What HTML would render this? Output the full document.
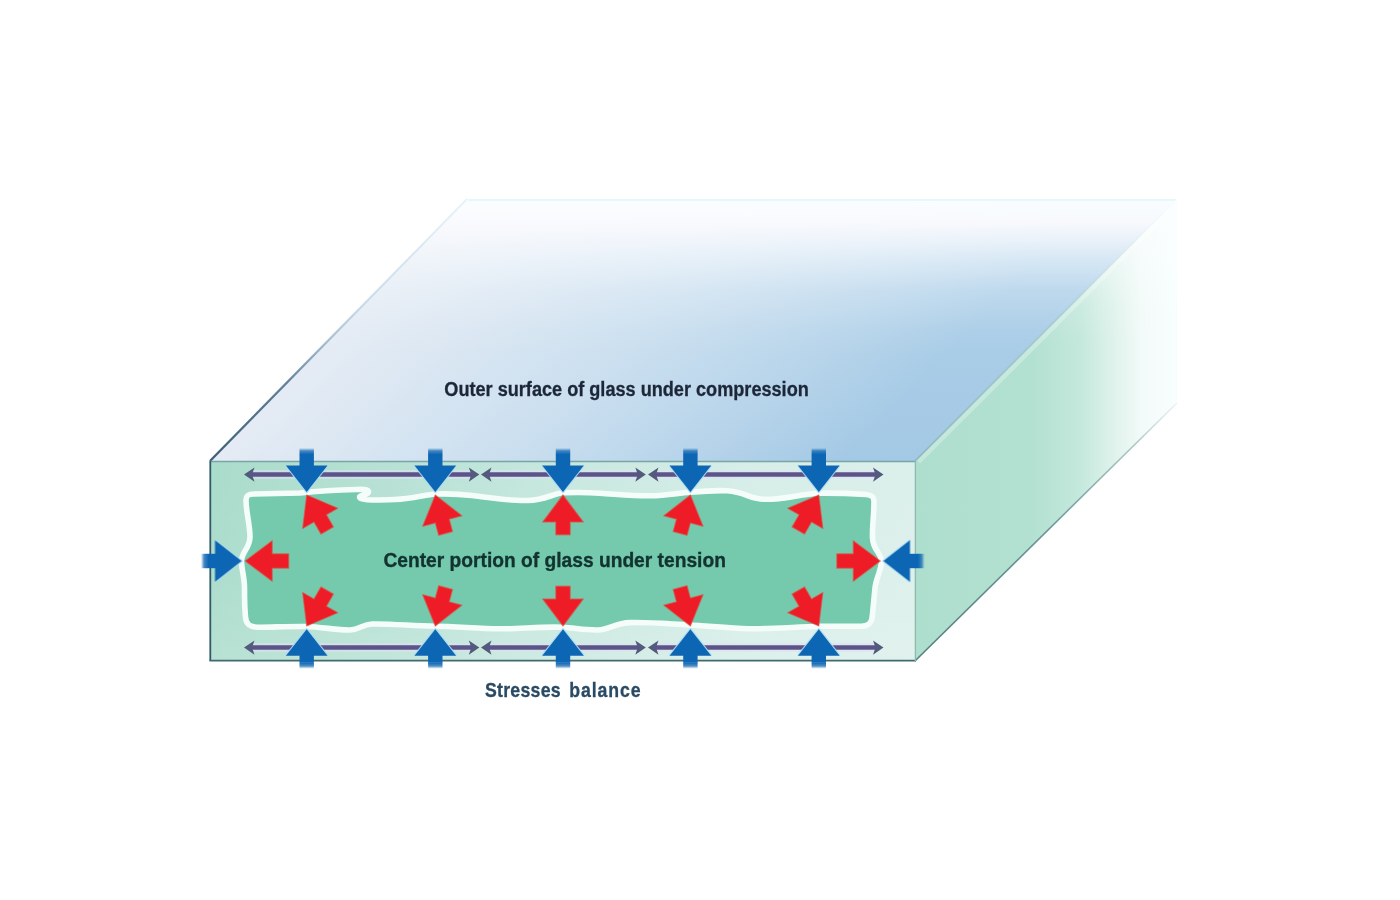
<!DOCTYPE html>
<html><head><meta charset="utf-8"><title>Tempered glass stresses</title>
<style>
html,body{margin:0;padding:0;background:#fff;}
body{width:1400px;height:900px;overflow:hidden;font-family:"Liberation Sans",sans-serif;}
svg{display:block;position:absolute;left:0;top:0}
text{font-family:"Liberation Sans",sans-serif;font-weight:bold;}
</style></head><body>
<svg width="1400" height="900" viewBox="0 0 1400 900">
<defs>
<linearGradient id="topV" gradientUnits="userSpaceOnUse" x1="0" y1="199" x2="0" y2="461">
<stop offset="0" stop-color="#abcee8"/><stop offset="0.5" stop-color="#aacde7"/><stop offset="1" stop-color="#a4c9e5"/>
</linearGradient>
<linearGradient id="topW" gradientUnits="userSpaceOnUse" x1="0" y1="199" x2="0" y2="461">
<stop offset="0" stop-color="#fbfeff" stop-opacity="0.98"/><stop offset="0.09" stop-color="#fbfbfe" stop-opacity="0.95"/><stop offset="0.15" stop-color="#f9fafe" stop-opacity="0.82"/><stop offset="0.22" stop-color="#f8fbfe" stop-opacity="0.6"/><stop offset="0.35" stop-color="#f8fbfe" stop-opacity="0.25"/><stop offset="0.5" stop-color="#f8fbfe" stop-opacity="0.05"/><stop offset="0.6" stop-color="#f8fbfe" stop-opacity="0"/>
</linearGradient>
<linearGradient id="topH" gradientUnits="userSpaceOnUse" x1="210" y1="461" x2="533" y2="778">
<stop offset="0" stop-color="#e8edf5" stop-opacity="0.95"/><stop offset="0.5" stop-color="#e9f0f7" stop-opacity="0.52"/><stop offset="1" stop-color="#eef3f9" stop-opacity="0"/>
</linearGradient>
<linearGradient id="sideH" gradientUnits="userSpaceOnUse" x1="915" y1="0" x2="1177" y2="0">
<stop offset="0" stop-color="#aedecd"/><stop offset="0.45" stop-color="#b3e1d1"/><stop offset="0.63" stop-color="#c4e8dc"/><stop offset="0.745" stop-color="#dcf1ea"/><stop offset="0.86" stop-color="#f2faf8"/><stop offset="1" stop-color="#f8fefe"/>
</linearGradient>
<linearGradient id="sideW" gradientUnits="userSpaceOnUse" x1="0" y1="199" x2="0" y2="461">
<stop offset="0" stop-color="#fbfefe" stop-opacity="0.9"/><stop offset="0.15" stop-color="#fbfefe" stop-opacity="0.6"/><stop offset="0.4" stop-color="#fbfefe" stop-opacity="0.12"/><stop offset="0.55" stop-color="#fbfefe" stop-opacity="0"/>
</linearGradient>
<linearGradient id="frontV" x1="0" y1="0" x2="0" y2="1">
<stop offset="0" stop-color="#ffffff" stop-opacity="0"/><stop offset="0.6" stop-color="#ffffff" stop-opacity="0.04"/><stop offset="1" stop-color="#ffffff" stop-opacity="0.16"/>
</linearGradient>
<linearGradient id="frontH" gradientUnits="userSpaceOnUse" x1="210" y1="0" x2="915" y2="0">
<stop offset="0" stop-color="#aadccb"/><stop offset="0.25" stop-color="#b7e1d4"/><stop offset="0.5" stop-color="#c8e8df"/><stop offset="0.75" stop-color="#d6ede8"/><stop offset="1" stop-color="#dcf0eb"/>
</linearGradient>
<linearGradient id="eL" gradientUnits="userSpaceOnUse" x1="210" y1="461" x2="467" y2="199">
<stop offset="0" stop-color="#34566f" stop-opacity="0.95"/><stop offset="0.3" stop-color="#3f6583" stop-opacity="0.8"/><stop offset="0.45" stop-color="#6b93b0" stop-opacity="0.55"/><stop offset="0.6" stop-color="#8fb4d0" stop-opacity="0.35"/><stop offset="1" stop-color="#bfe0ee" stop-opacity="0.25"/>
</linearGradient>
<linearGradient id="eM" gradientUnits="userSpaceOnUse" x1="915" y1="461" x2="1177" y2="199">
<stop offset="0" stop-color="#7fa9b6" stop-opacity="0.75"/><stop offset="0.55" stop-color="#8fb6c4" stop-opacity="0.55"/><stop offset="0.85" stop-color="#c0d8e0" stop-opacity="0.2"/><stop offset="1" stop-color="#ffffff" stop-opacity="0"/>
</linearGradient>
<linearGradient id="eB" gradientUnits="userSpaceOnUse" x1="915" y1="661" x2="1177" y2="403">
<stop offset="0" stop-color="#3d6a6e" stop-opacity="0.85"/><stop offset="0.5" stop-color="#4f7f80" stop-opacity="0.8"/><stop offset="0.85" stop-color="#7fa8a6" stop-opacity="0.6"/><stop offset="1" stop-color="#c0dbd8" stop-opacity="0.3"/>
</linearGradient>
<linearGradient id="shaftFade" x1="0" y1="0" x2="0" y2="1">
<stop offset="0" stop-color="#1a6db6" stop-opacity="0"/><stop offset="0.45" stop-color="#1468b4" stop-opacity="0.75"/><stop offset="1" stop-color="#1166b3" stop-opacity="1"/>
</linearGradient>
<clipPath id="sideClip"><polygon points="915,461 1177,199 1177,403 915,661"/></clipPath>
<filter id="b1" x="-5%" y="-5%" width="110%" height="110%"><feGaussianBlur stdDeviation="0.55"/></filter>
<filter id="b2" x="-5%" y="-5%" width="110%" height="110%"><feGaussianBlur stdDeviation="0.7"/></filter>
</defs>
<rect width="1400" height="900" fill="#ffffff"/>
<!-- top face -->
<polygon points="210,461 467,199 1177,199 915,461" fill="url(#topV)"/>
<polygon points="210,461 467,199 1177,199 915,461" fill="url(#topH)"/>
<polygon points="210,461 467,199 1177,199 915,461" fill="url(#topW)"/>
<line x1="468" y1="200" x2="1176" y2="200" stroke="#e2f7fb" stroke-width="2" stroke-opacity="0.9"/>
<!-- side face -->
<polygon points="915,461 1177,199 1177,403 915,661" fill="url(#sideH)"/>
<polygon points="915,461 1177,199 1177,403 915,661" fill="url(#sideW)"/>
<!-- front face -->
<rect x="210" y="461" width="705.5" height="200" fill="url(#frontH)"/>
<rect x="210" y="461" width="705.5" height="200" fill="url(#frontV)"/>
<!-- edges -->
<line x1="210" y1="461" x2="467" y2="199" stroke="url(#eL)" stroke-width="2.3"/>
<line x1="918.5" y1="462" x2="1180.5" y2="200" stroke="#ffffff" stroke-opacity="0.28" stroke-width="4.5" filter="url(#b1)" clip-path="url(#sideClip)"/>
<line x1="915" y1="461" x2="1177" y2="199" stroke="url(#eM)" stroke-width="1.5"/>
<line x1="915" y1="661" x2="1177" y2="403" stroke="url(#eB)" stroke-width="1.6"/>
<line x1="210" y1="461.5" x2="915" y2="461.5" stroke="#7aa5a6" stroke-width="1.4"/>
<line x1="210.3" y1="461" x2="210.3" y2="661" stroke="#2f5a66" stroke-width="1.8"/>
<line x1="209.5" y1="660.6" x2="916" y2="660.6" stroke="#3f6b70" stroke-width="1.8"/>
<line x1="915.4" y1="461" x2="915.4" y2="661" stroke="#8fbcb0" stroke-width="1.4"/>
<!-- inner tension zone -->
<g filter="url(#b1)">
<path d="M246,500 C246,495 249,494 254,494 L300,493 C320,491 340,490 356,489.5 C366,489 370,490 368,493 C365,496 358,495 360,498 C362,500.5 380,500 395,499.5 C410,499 425,495 435,494 C450,493.5 460,494 472,495.5 C495,498.5 510,501 528,500.5 C545,500 552,494 563,492.8 C580,492 590,492.5 600,493.2 C620,494.5 635,496 650,495.8 C668,495.5 678,493 690,492.3 C705,491 715,490.2 727,490.8 C745,492 750,499 764,499.3 C785,499.7 800,494 819,493.2 C840,493 858,494 866,494.5 C872,495 874,497 874,502 C874,515 872,528 872.5,538 C873,550 881,553 881.5,561 C881.5,570 876,578 875,588 C874,598 873,608 872.5,614 C872,623 869,626 862,626.2 C848,626.5 832,626 819,626.3 C795,627 770,629 749,628.7 C728,628.3 705,625.5 690,625 C670,624 650,622 630,622.6 C615,623 610,629.5 598,630 C585,630.3 575,628 563,627.3 C540,626.5 520,629 500,628.8 C478,628.5 455,626.5 435,626.3 C412,626 392,623.5 372,624 C362,624.3 360,629.5 350,630 C338,630.3 322,627 306,626.5 C285,626.2 270,627.5 258,627.2 C249,627 246,624 245.5,617 C244.5,607 244.5,597 244.5,588 C244.5,577 241.5,570 241.5,561 C241.5,552 250,548 250,537 C250,525 246,512 246,500 Z" fill="#74c9ad" stroke="#f5fdfb" stroke-width="5.6" stroke-linejoin="round"/>
</g>
<!-- purple arrows -->
<g filter="url(#b2)">
<line x1="252" y1="474.6" x2="471.3" y2="474.6" stroke="#dfe0f4" stroke-opacity="0.55" stroke-width="9"/>
<line x1="249" y1="474.6" x2="474.3" y2="474.6" stroke="#5c5388" stroke-width="4.5"/>
<line x1="489" y1="474.6" x2="637.8" y2="474.6" stroke="#dfe0f4" stroke-opacity="0.55" stroke-width="9"/>
<line x1="486" y1="474.6" x2="640.8" y2="474.6" stroke="#5c5388" stroke-width="4.5"/>
<line x1="656" y1="474.6" x2="875.5" y2="474.6" stroke="#dfe0f4" stroke-opacity="0.55" stroke-width="9"/>
<line x1="653" y1="474.6" x2="878.5" y2="474.6" stroke="#5c5388" stroke-width="4.5"/>
<path d="M244,474.6 L254.5,467.40000000000003 L252.0,474.6 L254.5,481.8 Z" fill="#525a7e"/>
<path d="M479.3,474.6 L468.8,467.40000000000003 L471.3,474.6 L468.8,481.8 Z" fill="#525a7e"/>
<path d="M481,474.6 L491.5,467.40000000000003 L489.0,474.6 L491.5,481.8 Z" fill="#525a7e"/>
<path d="M645.8,474.6 L635.3,467.40000000000003 L637.8,474.6 L635.3,481.8 Z" fill="#525a7e"/>
<path d="M648,474.6 L658.5,467.40000000000003 L656.0,474.6 L658.5,481.8 Z" fill="#525a7e"/>
<path d="M883.5,474.6 L873.0,467.40000000000003 L875.5,474.6 L873.0,481.8 Z" fill="#525a7e"/>
<line x1="252" y1="647.6" x2="471.3" y2="647.6" stroke="#dfe0f4" stroke-opacity="0.55" stroke-width="9"/>
<line x1="249" y1="647.6" x2="474.3" y2="647.6" stroke="#5c5388" stroke-width="4.5"/>
<line x1="489" y1="647.6" x2="637.8" y2="647.6" stroke="#dfe0f4" stroke-opacity="0.55" stroke-width="9"/>
<line x1="486" y1="647.6" x2="640.8" y2="647.6" stroke="#5c5388" stroke-width="4.5"/>
<line x1="656" y1="647.6" x2="875.5" y2="647.6" stroke="#dfe0f4" stroke-opacity="0.55" stroke-width="9"/>
<line x1="653" y1="647.6" x2="878.5" y2="647.6" stroke="#5c5388" stroke-width="4.5"/>
<path d="M244,647.6 L254.5,640.4 L252.0,647.6 L254.5,654.8000000000001 Z" fill="#525a7e"/>
<path d="M479.3,647.6 L468.8,640.4 L471.3,647.6 L468.8,654.8000000000001 Z" fill="#525a7e"/>
<path d="M481,647.6 L491.5,640.4 L489.0,647.6 L491.5,654.8000000000001 Z" fill="#525a7e"/>
<path d="M645.8,647.6 L635.3,640.4 L637.8,647.6 L635.3,654.8000000000001 Z" fill="#525a7e"/>
<path d="M648,647.6 L658.5,640.4 L656.0,647.6 L658.5,654.8000000000001 Z" fill="#525a7e"/>
<path d="M883.5,647.6 L873.0,640.4 L875.5,647.6 L873.0,654.8000000000001 Z" fill="#525a7e"/>
</g>
<g filter="url(#b2)">
<g transform="translate(306.7,492) rotate(0)"><path d="M-20.8,-26.6 L0,0 L20.8,-26.6" fill="none" stroke="#a6dbf2" stroke-width="2.2" stroke-linejoin="round" stroke-opacity="0.9"/><path d="M0,0 L-20.8,-26.6 L-7.2,-26.6 L-7.2,-38 L7.2,-38 L7.2,-26.6 L20.8,-26.6 Z" fill="#1166b3"/><rect x="-7.2" y="-44" width="14.4" height="6.3" fill="url(#shaftFade)"/></g>
<g transform="translate(306.7,629.2) rotate(180)"><path d="M-20.8,-26.6 L0,0 L20.8,-26.6" fill="none" stroke="#a6dbf2" stroke-width="2.2" stroke-linejoin="round" stroke-opacity="0.9"/><path d="M0,0 L-20.8,-26.6 L-7.2,-26.6 L-7.2,-33.6 L7.2,-33.6 L7.2,-26.6 L20.8,-26.6 Z" fill="#1166b3"/><rect x="-7.2" y="-39.6" width="14.4" height="6.3" fill="url(#shaftFade)"/></g>
<g transform="translate(435.3,492) rotate(0)"><path d="M-20.8,-26.6 L0,0 L20.8,-26.6" fill="none" stroke="#a6dbf2" stroke-width="2.2" stroke-linejoin="round" stroke-opacity="0.9"/><path d="M0,0 L-20.8,-26.6 L-7.2,-26.6 L-7.2,-38 L7.2,-38 L7.2,-26.6 L20.8,-26.6 Z" fill="#1166b3"/><rect x="-7.2" y="-44" width="14.4" height="6.3" fill="url(#shaftFade)"/></g>
<g transform="translate(435.3,629.2) rotate(180)"><path d="M-20.8,-26.6 L0,0 L20.8,-26.6" fill="none" stroke="#a6dbf2" stroke-width="2.2" stroke-linejoin="round" stroke-opacity="0.9"/><path d="M0,0 L-20.8,-26.6 L-7.2,-26.6 L-7.2,-33.6 L7.2,-33.6 L7.2,-26.6 L20.8,-26.6 Z" fill="#1166b3"/><rect x="-7.2" y="-39.6" width="14.4" height="6.3" fill="url(#shaftFade)"/></g>
<g transform="translate(563,492) rotate(0)"><path d="M-20.8,-26.6 L0,0 L20.8,-26.6" fill="none" stroke="#a6dbf2" stroke-width="2.2" stroke-linejoin="round" stroke-opacity="0.9"/><path d="M0,0 L-20.8,-26.6 L-7.2,-26.6 L-7.2,-38 L7.2,-38 L7.2,-26.6 L20.8,-26.6 Z" fill="#1166b3"/><rect x="-7.2" y="-44" width="14.4" height="6.3" fill="url(#shaftFade)"/></g>
<g transform="translate(563,629.2) rotate(180)"><path d="M-20.8,-26.6 L0,0 L20.8,-26.6" fill="none" stroke="#a6dbf2" stroke-width="2.2" stroke-linejoin="round" stroke-opacity="0.9"/><path d="M0,0 L-20.8,-26.6 L-7.2,-26.6 L-7.2,-33.6 L7.2,-33.6 L7.2,-26.6 L20.8,-26.6 Z" fill="#1166b3"/><rect x="-7.2" y="-39.6" width="14.4" height="6.3" fill="url(#shaftFade)"/></g>
<g transform="translate(690.4,492) rotate(0)"><path d="M-20.8,-26.6 L0,0 L20.8,-26.6" fill="none" stroke="#a6dbf2" stroke-width="2.2" stroke-linejoin="round" stroke-opacity="0.9"/><path d="M0,0 L-20.8,-26.6 L-7.2,-26.6 L-7.2,-38 L7.2,-38 L7.2,-26.6 L20.8,-26.6 Z" fill="#1166b3"/><rect x="-7.2" y="-44" width="14.4" height="6.3" fill="url(#shaftFade)"/></g>
<g transform="translate(690.4,629.2) rotate(180)"><path d="M-20.8,-26.6 L0,0 L20.8,-26.6" fill="none" stroke="#a6dbf2" stroke-width="2.2" stroke-linejoin="round" stroke-opacity="0.9"/><path d="M0,0 L-20.8,-26.6 L-7.2,-26.6 L-7.2,-33.6 L7.2,-33.6 L7.2,-26.6 L20.8,-26.6 Z" fill="#1166b3"/><rect x="-7.2" y="-39.6" width="14.4" height="6.3" fill="url(#shaftFade)"/></g>
<g transform="translate(818.8,492) rotate(0)"><path d="M-20.8,-26.6 L0,0 L20.8,-26.6" fill="none" stroke="#a6dbf2" stroke-width="2.2" stroke-linejoin="round" stroke-opacity="0.9"/><path d="M0,0 L-20.8,-26.6 L-7.2,-26.6 L-7.2,-38 L7.2,-38 L7.2,-26.6 L20.8,-26.6 Z" fill="#1166b3"/><rect x="-7.2" y="-44" width="14.4" height="6.3" fill="url(#shaftFade)"/></g>
<g transform="translate(818.8,629.2) rotate(180)"><path d="M-20.8,-26.6 L0,0 L20.8,-26.6" fill="none" stroke="#a6dbf2" stroke-width="2.2" stroke-linejoin="round" stroke-opacity="0.9"/><path d="M0,0 L-20.8,-26.6 L-7.2,-26.6 L-7.2,-33.6 L7.2,-33.6 L7.2,-26.6 L20.8,-26.6 Z" fill="#1166b3"/><rect x="-7.2" y="-39.6" width="14.4" height="6.3" fill="url(#shaftFade)"/></g>
<g transform="translate(241.5,561) rotate(-90)"><path d="M-20.8,-26.6 L0,0 L20.8,-26.6" fill="none" stroke="#a6dbf2" stroke-width="2.2" stroke-linejoin="round" stroke-opacity="0.9"/><path d="M0,0 L-20.8,-26.6 L-7.2,-26.6 L-7.2,-34.5 L7.2,-34.5 L7.2,-26.6 L20.8,-26.6 Z" fill="#1166b3"/><rect x="-7.2" y="-40.5" width="14.4" height="6.3" fill="url(#shaftFade)"/></g>
<g transform="translate(883.5,561) rotate(90)"><path d="M-20.8,-26.6 L0,0 L20.8,-26.6" fill="none" stroke="#a6dbf2" stroke-width="2.2" stroke-linejoin="round" stroke-opacity="0.9"/><path d="M0,0 L-20.8,-26.6 L-7.2,-26.6 L-7.2,-35 L7.2,-35 L7.2,-26.6 L20.8,-26.6 Z" fill="#1166b3"/><rect x="-7.2" y="-41" width="14.4" height="6.3" fill="url(#shaftFade)"/></g>
</g>
<g filter="url(#b2)">
<path d="M0,0 L20.3,27 L7.2,27 L7.2,41 L-7.2,41 L-7.2,27 L-20.3,27 Z" transform="translate(306.7,495) rotate(-30)" fill="#ee1c25" stroke="#d9564a" stroke-width="1.3" stroke-opacity="0.6" stroke-linejoin="round"/>
<path d="M0,0 L20.3,27 L7.2,27 L7.2,41 L-7.2,41 L-7.2,27 L-20.3,27 Z" transform="translate(306.7,626) rotate(210)" fill="#ee1c25" stroke="#d9564a" stroke-width="1.3" stroke-opacity="0.6" stroke-linejoin="round"/>
<path d="M0,0 L20.3,27 L7.2,27 L7.2,39.8 L-7.2,39.8 L-7.2,27 L-20.3,27 Z" transform="translate(435.3,495) rotate(-15)" fill="#ee1c25" stroke="#d9564a" stroke-width="1.3" stroke-opacity="0.6" stroke-linejoin="round"/>
<path d="M0,0 L20.3,27 L7.2,27 L7.2,39.8 L-7.2,39.8 L-7.2,27 L-20.3,27 Z" transform="translate(435.3,626) rotate(195)" fill="#ee1c25" stroke="#d9564a" stroke-width="1.3" stroke-opacity="0.6" stroke-linejoin="round"/>
<path d="M0,0 L20.3,27 L7.2,27 L7.2,39.8 L-7.2,39.8 L-7.2,27 L-20.3,27 Z" transform="translate(563,495) rotate(0)" fill="#ee1c25" stroke="#d9564a" stroke-width="1.3" stroke-opacity="0.6" stroke-linejoin="round"/>
<path d="M0,0 L20.3,27 L7.2,27 L7.2,39.8 L-7.2,39.8 L-7.2,27 L-20.3,27 Z" transform="translate(563,626) rotate(180)" fill="#ee1c25" stroke="#d9564a" stroke-width="1.3" stroke-opacity="0.6" stroke-linejoin="round"/>
<path d="M0,0 L20.3,27 L7.2,27 L7.2,39.8 L-7.2,39.8 L-7.2,27 L-20.3,27 Z" transform="translate(690.4,495) rotate(15)" fill="#ee1c25" stroke="#d9564a" stroke-width="1.3" stroke-opacity="0.6" stroke-linejoin="round"/>
<path d="M0,0 L20.3,27 L7.2,27 L7.2,39.8 L-7.2,39.8 L-7.2,27 L-20.3,27 Z" transform="translate(690.4,626) rotate(165)" fill="#ee1c25" stroke="#d9564a" stroke-width="1.3" stroke-opacity="0.6" stroke-linejoin="round"/>
<path d="M0,0 L20.3,27 L7.2,27 L7.2,41 L-7.2,41 L-7.2,27 L-20.3,27 Z" transform="translate(818.8,495) rotate(30)" fill="#ee1c25" stroke="#d9564a" stroke-width="1.3" stroke-opacity="0.6" stroke-linejoin="round"/>
<path d="M0,0 L20.3,27 L7.2,27 L7.2,41 L-7.2,41 L-7.2,27 L-20.3,27 Z" transform="translate(818.8,626) rotate(150)" fill="#ee1c25" stroke="#d9564a" stroke-width="1.3" stroke-opacity="0.6" stroke-linejoin="round"/>
<path d="M0,0 L20.3,27 L7.2,27 L7.2,43.5 L-7.2,43.5 L-7.2,27 L-20.3,27 Z" transform="translate(245.2,561) rotate(-90)" fill="#ee1c25" stroke="#d9564a" stroke-width="1.3" stroke-opacity="0.6" stroke-linejoin="round"/>
<path d="M0,0 L20.3,27 L7.2,27 L7.2,43.5 L-7.2,43.5 L-7.2,27 L-20.3,27 Z" transform="translate(880.3,561) rotate(90)" fill="#ee1c25" stroke="#d9564a" stroke-width="1.3" stroke-opacity="0.6" stroke-linejoin="round"/>
</g>
<g filter="url(#b2)">
<text x="444.3" y="395.6" font-size="19.6" fill="#1c2738" stroke="#1c2738" stroke-width="0.3" textLength="364.5" lengthAdjust="spacingAndGlyphs">Outer surface of glass under compression</text>
<text x="383.4" y="566.5" font-size="20.2" fill="#12332f" stroke="#12332f" stroke-width="0.35" textLength="342.5" lengthAdjust="spacingAndGlyphs">Center portion of glass under tension</text>
<g transform="translate(485,696.8) scale(0.86,1)" font-size="20.6" fill="#2a4a64" stroke="#2a4a64" stroke-width="0.3">
<text x="0" y="0" textLength="88" lengthAdjust="spacing">Stresses</text>
<text x="98" y="0" textLength="83" lengthAdjust="spacing">balance</text>
</g>
</g>
</svg>
</body></html>
